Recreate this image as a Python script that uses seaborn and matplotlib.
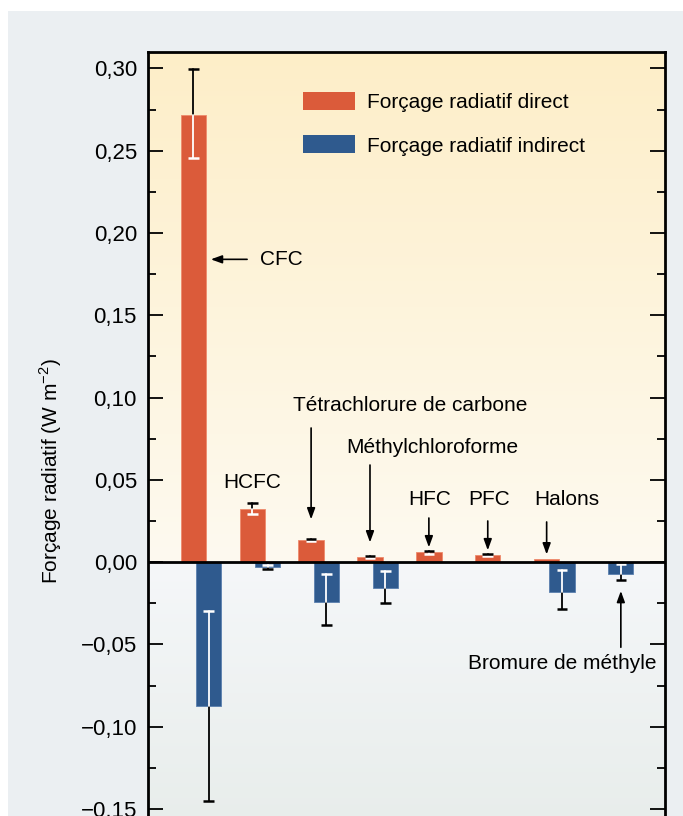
import numpy as np
import pandas as pd
import matplotlib
matplotlib.use('Agg')
import matplotlib.pyplot as plt
from matplotlib.patches import Rectangle
from matplotlib.colors import LinearSegmentedColormap
import seaborn as sns

# values (W m-2)
gases = ['CFC', 'HCFC', 'Tétrachlorure de carbone', 'Méthylchloroforme',
         'HFC', 'PFC', 'Halons', 'Bromure de méthyle']
direct = [0.2715, 0.0326, 0.0134, 0.0032, 0.0059, 0.0043, 0.0022, 0.0]
direct_lo = [0.2453, 0.0293, 0.0126, 0.0026, 0.0049, 0.0036, np.nan, np.nan]
direct_hi = [0.2994, 0.0358, 0.0142, 0.0038, 0.0069, 0.0050, np.nan, np.nan]
indirect = [-0.0875, -0.0032, -0.0241, -0.0160, 0.0, 0.0, -0.0180, -0.0069]
indirect_lo = [-0.145, -0.0040, -0.0383, -0.0251, np.nan, np.nan, -0.0287, -0.0107]
indirect_hi = [-0.0298, -0.0015, -0.0073, -0.0053, np.nan, np.nan, -0.0049, -0.0014]
yticks = [-0.15, -0.10, -0.05, 0.0, 0.05, 0.10, 0.15, 0.20, 0.25, 0.30]

c_direct = '#db5b3a'
c_indirect = '#2f5a8e'

sns.set_style('white')
plt.rcParams['font.family'] = ['Liberation Sans', 'DejaVu Sans']
plt.rcParams['mathtext.fontset'] = 'custom'
plt.rcParams['mathtext.rm'] = 'Liberation Sans'
plt.rcParams['text.color'] = 'black'
plt.rcParams['axes.labelcolor'] = 'black'
plt.rcParams['ytick.color'] = 'black'

fig = plt.figure(figsize=(6.83, 8.16), dpi=100)
fig.patch.set_facecolor('white')
fig.patches.append(Rectangle((8 / 683, 0), 1, 1 - 11 / 816, transform=fig.transFigure,
                             facecolor='#ebeff2', edgecolor='none', zorder=-10))

ax = fig.add_axes([148 / 683, -0.0116, 517 / 683, 0.9479])
ax.set_facecolor('none')

ylo, yhi = -0.16, 0.31
xlo, xhi = -0.9, 7.88
off = 0.13
w = 0.43

# background gradient: yellow on top, grey-green below zero
top = LinearSegmentedColormap.from_list('t', ['#fefaf0', '#fdeec8'])
bot = LinearSegmentedColormap.from_list('b', ['#e8edeb', '#f5f7f9'])
ax.imshow(np.linspace(0, 1, 200).reshape(-1, 1), cmap=top, origin='lower',
          extent=[xlo, xhi, 0, yhi], aspect='auto', zorder=0)
ax.imshow(np.linspace(0, 1, 200).reshape(-1, 1), cmap=bot, origin='lower',
          extent=[xlo, xhi, ylo, 0], aspect='auto', zorder=0)

idx = np.arange(len(gases))
df_d = pd.DataFrame({'x': idx - off, 'y': direct})
df_i = pd.DataFrame({'x': idx + off, 'y': indirect})
sns.barplot(data=df_d, x='x', y='y', native_scale=True, width=w, color=c_direct,
            saturation=1, edgecolor='#ee8a6c', linewidth=0.6, ax=ax, zorder=2,
            label='Forçage radiatif direct')
sns.barplot(data=df_i, x='x', y='y', native_scale=True, width=w, color=c_indirect,
            saturation=1, edgecolor='#5a7fae', linewidth=0.6, ax=ax, zorder=2,
            label='Forçage radiatif indirect')


def err(x, val, lo, hi):
    if np.isnan(lo):
        return
    a, b = min(0, val), max(0, val)
    cap = 0.09
    # part of the whisker outside the bar in black, inside in white
    if hi > b:
        ax.plot([x, x], [max(lo, b), hi], color='black', lw=1.3, zorder=4)
    if lo < a:
        ax.plot([x, x], [lo, min(hi, a)], color='black', lw=1.3, zorder=4)
    if hi > a and lo < b:
        ax.plot([x, x], [max(lo, a), min(hi, b)], color='white', lw=1.3, zorder=4)
    for yy in (lo, hi):
        col = 'white' if a < yy < b else 'black'
        ax.plot([x - cap, x + cap], [yy, yy], color=col, lw=1.8, zorder=4,
                solid_capstyle='butt')


for i in idx:
    err(i - off, direct[i], direct_lo[i], direct_hi[i])
    err(i + off, indirect[i], indirect_lo[i], indirect_hi[i])

ax.axhline(0, color='black', lw=2, zorder=5)

ax.set_xticks([])
ax.set_xlabel('')
ax.set_yticks(yticks)
ax.set_yticklabels([f'{t:.2f}'.replace('.', ',').replace('-', '\u2212') for t in yticks])
ax.set_yticks(np.arange(-0.175, 0.31, 0.05), minor=True)
ax.set_xlim(xlo, xhi)
ax.set_ylim(ylo, yhi)
ax.tick_params(axis='y', which='major', direction='in', length=11, width=1.3,
               left=True, right=True, labelsize=16, pad=8)
ax.tick_params(axis='y', which='minor', direction='in', length=6, width=1.3,
               left=True, right=True)
for s in ax.spines.values():
    s.set_linewidth(2)
    s.set_color('black')
    s.set_zorder(6)

ax.set_ylabel('Forçage radiatif (W m$^{-2}$)', fontsize=15)
ax.yaxis.set_label_coords(-0.1625, 0.458)

# annotations
fs = 15
ap = dict(arrowstyle='-|>,head_length=0.55,head_width=0.2', color='black',
          lw=1.2, mutation_scale=12)
ax.annotate('', xy=(0.12, 0.184), xytext=(0.83, 0.184), arrowprops=ap)
ax.text(1.0, 0.184, 'CFC', fontsize=fs, ha='left', va='center')
ax.text(0.87, 0.0486, 'HCFC', fontsize=fs, ha='center', va='center')
ax.text(3.55, 0.0953, 'Tétrachlorure de carbone', fontsize=fs, ha='center', va='center')
ax.annotate('', xy=(2 - off, 0.0243), xytext=(2 - off, 0.0832), arrowprops=ap)
ax.text(3.92, 0.0698, 'Méthylchloroforme', fontsize=fs, ha='center', va='center')
ax.annotate('', xy=(3 - off, 0.0103), xytext=(3 - off, 0.0607), arrowprops=ap)
ax.text(3.89, 0.0383, 'HFC', fontsize=fs, ha='center', va='center')
ax.annotate('', xy=(4 - off, 0.0073), xytext=(4 - off, 0.0285), arrowprops=ap)
ax.text(4.89, 0.0383, 'PFC', fontsize=fs, ha='center', va='center')
ax.annotate('', xy=(5 - off, 0.0055), xytext=(5 - off, 0.0267), arrowprops=ap)
ax.text(6.21, 0.0383, 'Halons', fontsize=fs, ha='center', va='center')
ax.annotate('', xy=(6 - off, 0.003), xytext=(6 - off, 0.0261), arrowprops=ap)
ax.text(6.13, -0.0613, 'Bromure de méthyle', fontsize=fs, ha='center', va='center')
ax.annotate('', xy=(7 + off, -0.0158), xytext=(7 + off, -0.0534), arrowprops=ap)

leg = ax.legend(loc='upper left', bbox_to_anchor=(0.2998, 0.948), frameon=False,
                fontsize=15, handlelength=2.5, handleheight=0.96, handletextpad=0.58,
                labelspacing=1.1, borderpad=0, borderaxespad=0)
for h in leg.legend_handles:
    h.set_linewidth(0)

fig.savefig('out.png', dpi=100)
